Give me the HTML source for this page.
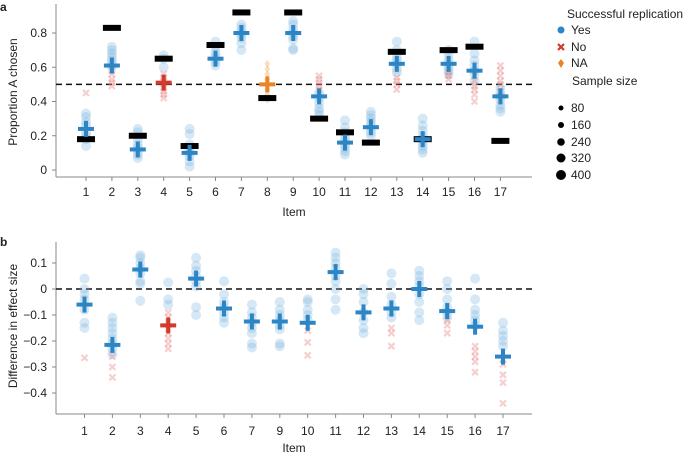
<!DOCTYPE html>
<html><head><meta charset="utf-8">
<style>
body{margin:0;background:#fff;}
svg{display:block;font-family:"Liberation Sans",Arial,sans-serif;}
</style></head>
<body>
<svg id="chart" width="685" height="454" viewBox="0 0 685 454"></svg>
<script>
// ---- Panel a data ----
const itemsA = [1,2,3,4,5,6,7,8,9,10,11,12,13,14,15,16,17];
const statusA = ['yes','yes','yes','no','yes','yes','yes','na','yes','yes','yes','yes','yes','yes','yes','yes','yes'];
const meanA = [0.24,0.61,0.12,0.51,0.10,0.65,0.80,0.50,0.80,0.43,0.16,0.25,0.62,0.18,0.62,0.58,0.43];
const origA = [0.18,0.83,0.20,0.65,0.14,0.73,0.92,0.42,0.92,0.30,0.22,0.16,0.69,0.18,0.70,0.72,0.17];
const labsYesA = [
 [0.14,0.18,0.20,0.22,0.26,0.28,0.31,0.33],
 [0.60,0.62,0.64,0.66,0.68,0.70,0.72],
 [0.07,0.09,0.11,0.13,0.15,0.18,0.22,0.24],
 [0.60,0.65,0.67],
 [0.02,0.05,0.08,0.10,0.12,0.15,0.21,0.24],
 [0.61,0.63,0.65,0.67,0.69,0.72,0.75],
 [0.70,0.74,0.77,0.79,0.81,0.83,0.85],
 [],
 [0.70,0.71,0.76,0.78,0.80,0.82,0.85,0.87],
 [0.32,0.34,0.36,0.39,0.42,0.45],
 [0.09,0.11,0.13,0.15,0.17,0.19,0.22,0.25,0.29],
 [0.20,0.22,0.24,0.26,0.28,0.30,0.32,0.34],
 [0.57,0.59,0.62,0.64,0.66,0.70,0.75],
 [0.10,0.12,0.14,0.16,0.18,0.20,0.23,0.26,0.30],
 [0.56,0.58,0.60,0.62,0.64,0.67,0.70],
 [0.52,0.56,0.58,0.61,0.64,0.68,0.75],
 [0.34,0.36,0.38,0.41,0.43,0.45,0.48]
];
const labsNoA = [
 [0.45],[0.49,0.51,0.53,0.56,0.58],[],[0.42,0.44,0.46,0.48,0.50,0.52,0.54,0.56],[],[],[],[],[],
 [0.47,0.49,0.51,0.53,0.55],[],[],[0.47,0.50,0.52,0.54],[],[0.53,0.55,0.57],[0.40,0.44,0.47,0.49,0.52],[0.46,0.50,0.52,0.55,0.58,0.61]
];
const labsNaA = [0.41,0.44,0.47,0.50,0.53,0.56,0.59,0.62];
const ticksA = [0,0.2,0.4,0.6,0.8];
const tickLabelsA = ['0','0.2','0.4','0.6','0.8'];
// ---- Panel b data ----
const itemsB = [1,2,3,4,5,6,7,9,10,11,12,13,14,15,16,17];
const statusB = ['yes','yes','yes','no','yes','yes','yes','yes','yes','yes','yes','yes','yes','yes','yes','yes'];
const meanB = [-0.06,-0.215,0.075,-0.14,0.04,-0.075,-0.125,-0.125,-0.13,0.065,-0.09,-0.075,0.0,-0.085,-0.145,-0.26];
const labsYesB = [
 [0.04,0.0,-0.02,-0.04,-0.08,-0.13,-0.15],
 [-0.11,-0.13,-0.15,-0.17,-0.19,-0.21,-0.23,-0.25],
 [0.13,0.12,0.10,0.08,0.06,0.03,0.02,-0.045],
 [0.025,-0.04,-0.06],
 [0.12,0.09,0.07,0.05,0.03,0.01,-0.07,-0.10],
 [0.03,-0.02,-0.05,-0.07,-0.09,-0.11,-0.13],
 [-0.06,-0.09,-0.11,-0.13,-0.15,-0.17,-0.21,-0.225],
 [-0.05,-0.08,-0.10,-0.12,-0.14,-0.155,-0.21,-0.22],
 [-0.04,-0.05,-0.08,-0.10,-0.12],
 [0.14,0.12,0.10,0.08,0.05,0.03,0.0,-0.04,-0.08],
 [0.0,-0.02,-0.05,-0.09,-0.12,-0.15,-0.17],
 [0.06,0.02,-0.03,-0.06,-0.09,-0.11],
 [0.07,0.05,0.03,0.01,-0.02,-0.05,-0.09,-0.12],
 [0.03,0.0,-0.04,-0.07,-0.09,-0.11],
 [0.04,-0.04,-0.08,-0.10,-0.12,-0.14],
 [-0.13,-0.16,-0.18,-0.20,-0.22]
];
const labsNoB = [
 [-0.265],[-0.26,-0.30,-0.34],[],[-0.09,-0.11,-0.14,-0.17,-0.19,-0.21,-0.23],[],[],[],[],[-0.16,-0.205,-0.255],[],[],
 [-0.15,-0.17,-0.22],[],[-0.12,-0.14,-0.17],[-0.22,-0.24,-0.26,-0.28,-0.32],[-0.27,-0.29,-0.33,-0.36,-0.44]
];
const ticksB = [0.1,0,-0.1,-0.2,-0.3,-0.4];
const tickLabelsB = ['0.1','0','\u22120.1','\u22120.2','\u22120.3','\u22120.4'];

const NS='http://www.w3.org/2000/svg';
const svg=document.getElementById('chart');
function mk(tag,attrs,parent){const e=document.createElementNS(NS,tag);for(const k in attrs)e.setAttribute(k,attrs[k]);(parent||svg).appendChild(e);return e;}
const BLUE='#2c85c4', RED='#d23a2c', ORANGE='#ea8428';
const LB='rgba(120,178,222,0.3)', LR='rgba(230,120,120,0.35)', LO='rgba(240,160,80,0.35)';

// axis functions
const xA = i => 86 + i*25.9;
const yA = v => 170 - v*171.25;
const xB = i => 84.5 + i*27.9;
const yB = v => 289 - v*260;

function cross(g,x,y,c,sz){
  mk('rect',{x:x-sz,y:y-2,width:sz*2,height:4,fill:c},g);
  mk('rect',{x:x-2,y:y-sz,width:4,height:sz*2,fill:c},g);
}
function xmark(g,x,y,c){
  mk('path',{d:`M${x-3} ${y-3}L${x+3} ${y+3}M${x-3} ${y+3}L${x+3} ${y-3}`,stroke:c,'stroke-width':2.2},g);
}
function text(str,x,y,attrs,name){const t=mk('text',Object.assign({x:x,y:y,'font-size':12,fill:'#222'},attrs||{}));t.textContent=str;


return t;}

// ---------- Panel a ----------
text('a',0,11,{'font-weight':'bold','font-size':12},'panel-a-label');
const axA=mk('g',{});


mk('line',{x1:56,y1:4,x2:56,y2:177,stroke:'#888'},axA);
mk('line',{x1:56,y1:177,x2:532,y2:177,stroke:'#888'},axA);
ticksA.forEach((v,k)=>{mk('line',{x1:52,x2:56,y1:yA(v),y2:yA(v),stroke:'#888'},axA);
 text(tickLabelsA[k],47,yA(v)+4,{'text-anchor':'end'},'y-tick-label-a');});
itemsA.forEach((it,i)=>{mk('line',{x1:xA(i),x2:xA(i),y1:177,y2:181,stroke:'#888'},axA);
 text(String(it),xA(i),196,{'text-anchor':'middle'},'x-tick-label-a');});
text('Item',294,216,{'text-anchor':'middle'},'x-axis-title-a');
text('Proportion A chosen',0,0,{'text-anchor':'middle',transform:'translate(17,92) rotate(-90)'},'y-axis-title-a');
mk('line',{x1:56,x2:532,y1:yA(0.5),y2:yA(0.5),stroke:'#111','stroke-width':1.5,'stroke-dasharray':'6,4'});
const gA=mk('g',{});


itemsA.forEach((it,i)=>{
  labsYesA[i].forEach(v=>{const c=mk('circle',{cx:xA(i),cy:yA(v),r:5,fill:LB},gA);
    
    });
  labsNoA[i].forEach(v=>xmark(gA,xA(i),yA(v),LR));
  if(statusA[i]==='na') labsNaA.forEach(v=>mk('path',{d:`M${xA(i)} ${yA(v)-4}L${xA(i)+3} ${yA(v)}L${xA(i)} ${yA(v)+4}L${xA(i)-3} ${yA(v)}Z`,fill:LO},gA));
  const ob=mk('rect',{x:xA(i)-9,y:yA(origA[i])-3,width:18,height:6,fill:'#000'},gA);
  
  
  const c = statusA[i]==='no'?RED:statusA[i]==='na'?ORANGE:BLUE;
  cross(gA,xA(i),yA(meanA[i]),c,8);
});

// ---------- Panel b ----------
text('b',0,246,{'font-weight':'bold','font-size':12},'panel-b-label');
const axB=mk('g',{});


mk('line',{x1:56,y1:242,x2:56,y2:414,stroke:'#888'},axB);
mk('line',{x1:56,y1:414,x2:532,y2:414,stroke:'#888'},axB);
ticksB.forEach((v,k)=>{mk('line',{x1:52,x2:56,y1:yB(v),y2:yB(v),stroke:'#888'},axB);
 text(tickLabelsB[k],47,yB(v)+4,{'text-anchor':'end'},'y-tick-label-b');});
itemsB.forEach((it,i)=>{mk('line',{x1:xB(i),x2:xB(i),y1:414,y2:418,stroke:'#888'},axB);
 text(String(it),xB(i),435,{'text-anchor':'middle'},'x-tick-label-b');});
text('Item',294,452,{'text-anchor':'middle'},'x-axis-title-b');
text('Difference in effect size',0,0,{'text-anchor':'middle',transform:'translate(17,326) rotate(-90)'},'y-axis-title-b');
mk('line',{x1:56,x2:532,y1:yB(0),y2:yB(0),stroke:'#111','stroke-width':1.5,'stroke-dasharray':'6,4'});
const gB=mk('g',{});


itemsB.forEach((it,i)=>{
  labsYesB[i].forEach(v=>{const c=mk('circle',{cx:xB(i),cy:yB(v),r:5,fill:LB},gB);
    
    });
  labsNoB[i].forEach(v=>xmark(gB,xB(i),yB(v),LR));
  cross(gB,xB(i),yB(meanB[i]),statusB[i]==='no'?RED:BLUE,8);
});

// ---------- Legend ----------
const lg=mk('g',{});


text('Successful replication',567,18,{'font-size':12},'legend-title');
mk('circle',{cx:561,cy:30,r:3.5,fill:BLUE},lg);
text('Yes',571,34,{},'legend-entry-yes');
xmark(lg,561,47,RED);
text('No',571,51,{},'legend-entry-no');
mk('path',{d:'M561 59L564 63L561 68L558 63Z',fill:ORANGE},lg);
text('NA',571,67,{},'legend-entry-na');
text('Sample size',572,85,{},'legend-size-title');
[['80',2.5,108],['160',3,125],['240',3.8,142],['320',4.5,158],['400',5,175]].forEach(s=>{
  mk('circle',{cx:561,cy:s[2],r:s[1],fill:'#000'},lg);
  text(s[0],571,s[2]+4,{},'legend-size-entry');
});
</script>
</body></html>
